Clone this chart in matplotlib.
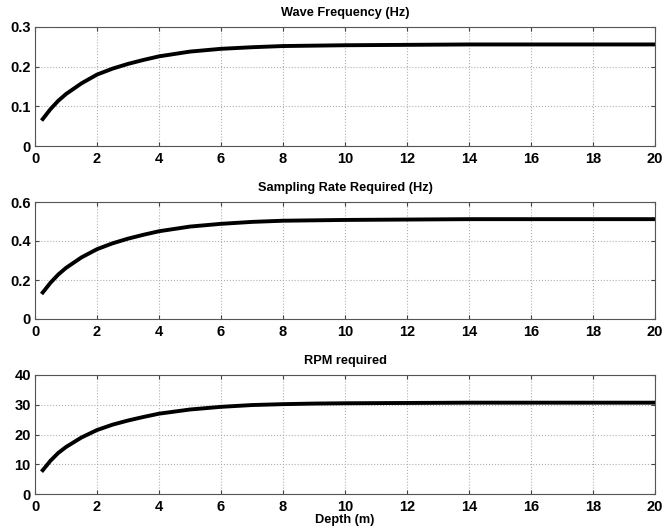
import numpy as np
import matplotlib
matplotlib.use('Agg')
import matplotlib.pyplot as plt

plt.rcParams['font.family'] = 'Liberation Sans'
plt.rcParams['font.weight'] = 'bold'

# depth (m) and values
depth = [0.25, 0.5, 0.75, 1.0, 1.5, 2.0, 2.5, 3.0, 3.5, 4.0, 5.0, 6.0, 7.0, 8.0, 9.0, 10.0, 12.0, 14.0, 16.0, 18.0, 20.0]
wave_freq = [0.068, 0.093, 0.114, 0.131, 0.158, 0.180, 0.195, 0.207, 0.217, 0.226, 0.238, 0.245, 0.249, 0.252, 0.253, 0.254, 0.255, 0.256, 0.256, 0.256, 0.256]
samp_rate = [0.136, 0.186, 0.228, 0.262, 0.316, 0.358, 0.388, 0.412, 0.432, 0.450, 0.474, 0.488, 0.498, 0.504, 0.506, 0.508, 0.510, 0.512, 0.512, 0.512, 0.512]
rpm = [8.0, 11.2, 13.8, 15.8, 19.0, 21.5, 23.3, 24.7, 25.9, 27.0, 28.4, 29.3, 29.9, 30.2, 30.4, 30.5, 30.6, 30.7, 30.7, 30.7, 30.7]

titles = ['Wave Frequency (Hz)', 'Sampling Rate Required (Hz)', 'RPM required']
series = [wave_freq, samp_rate, rpm]
ylims = [(0, 0.3), (0, 0.6), (0, 40)]
yticks = [[0, 0.1, 0.2, 0.3], [0, 0.2, 0.4, 0.6], [0, 10, 20, 30, 40]]
yticklabels = [['0', '0.1', '0.2', '0.3'], ['0', '0.2', '0.4', '0.6'], ['0', '10', '20', '30', '40']]

fig = plt.figure(figsize=(6.62, 5.31), dpi=100)
# axes boxes in pixels: (top, bottom)
boxes = [(27, 146), (202, 319), (375, 494)]
W, H = 662., 531.
for i in range(3):
    top, bot = boxes[i]
    ax = fig.add_axes([35/W, 1 - bot/H, (655-35)/W, (bot-top)/H])
    ax.plot(depth, series[i], 'k-', lw=2.8)
    ax.set_xlim(0, 20)
    ax.set_ylim(*ylims[i])
    ax.set_xticks(np.arange(0, 21, 2))
    ax.set_yticks(yticks[i])
    ax.set_yticklabels(yticklabels[i])
    ax.grid(True, color='#b0b0b0', linestyle=':', linewidth=0.8)
    ax.tick_params(direction='in', length=3, labelsize=10.5, top=True, right=True, color='#444444')
    ax.tick_params(axis='x', pad=4)
    ax.tick_params(axis='y', pad=3)
    for lab in ax.get_xticklabels() + ax.get_yticklabels():
        lab.set_fontweight('bold')
    for sp in ax.spines.values():
        sp.set_color('#555555')
        sp.set_linewidth(0.8)
    ax.set_title(titles[i], fontsize=9.2, fontweight='bold', pad=8)
    if i == 2:
        ax.set_xlabel('Depth (m)', fontsize=9.2, fontweight='bold', labelpad=0.5)

plt.savefig('out.png', dpi=100)
